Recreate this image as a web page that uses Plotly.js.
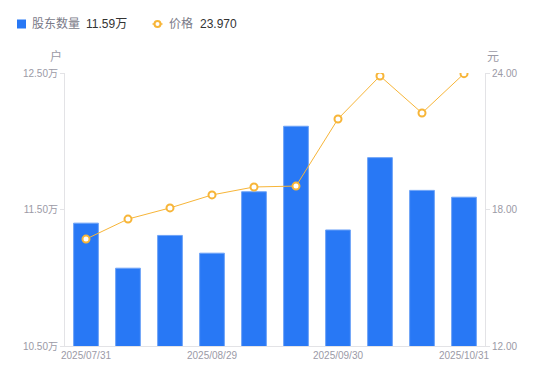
<!DOCTYPE html>
<html>
<head>
<meta charset="utf-8">
<script src="https://cdn.plot.ly/plotly-3.0.1.min.js"></script>
<style>html,body{margin:0;padding:0;background:#fff}#chart{width:550px;height:381px}</style>
</head>
<body>
<div id="chart"></div>
<script>
const dates = ["2025/07/31","2025/08/08","2025/08/20","2025/08/29","2025/09/10","2025/09/19","2025/09/30","2025/10/10","2025/10/20","2025/10/31"];
const holders = [11.40, 11.07, 11.31, 11.18, 11.63, 12.11, 11.35, 11.88, 11.64, 11.59];
const prices = [16.70, 17.58, 18.07, 18.64, 18.99, 19.03, 21.98, 23.87, 22.24, 23.97];
const xTickDates = ["2025/07/31","2025/08/29","2025/09/30","2025/10/31"];
const leftTicks = [10.5, 11.5, 12.5];
const leftTickText = ["10.50万","11.50万","12.50万"];
const rightTicks = [12, 18, 24];
const rightTickText = ["12.00","18.00","24.00"];

const FONT = "Liberation Sans, Arial, Noto Sans CJK SC, sans-serif";
const gray = "#9b9aa6";
const blue = "#2878f5";
const orange = "#f7b538";

const traces = [
  {
    type: "bar", x: dates, y: holders, yaxis: "y", name: "股东数量",
    marker: {color: blue, line: {color: "#6ea3f7", width: 1}}
  },
  {
    type: "scatter", mode: "lines+markers", x: dates, y: prices, yaxis: "y2", name: "价格",
    line: {color: orange, width: 1},
    marker: {size: 7, color: "#fff", line: {color: orange, width: 2}}
  }
];

const px = v => (v - 65) / 420;
const py = v => (346 - v) / 273;

const layout = {
  width: 550, height: 381,
  margin: {l: 65, r: 65, t: 73, b: 35, autoexpand: false},
  paper_bgcolor: "#fff", plot_bgcolor: "#fff",
  font: {family: FONT, size: 10, color: gray},
  bargap: 0.41,
  showlegend: false,
  xaxis: {
    type: "category", range: [-0.5, dates.length - 0.5], tickmode: "array", tickvals: xTickDates, ticktext: xTickDates,
    showline: true, linecolor: "#e3e3e6", linewidth: 1, ticks: "", showgrid: false,
    tickfont: {size: 10, color: gray}, zeroline: false
  },
  yaxis: {
    range: [10.5, 12.5], tickmode: "array", tickvals: leftTicks, ticktext: leftTickText,
    showline: true, linecolor: "#e3e3e6", linewidth: 1, ticks: "outside", ticklen: 4, tickcolor: "#e3e3e6",
    showgrid: false, zeroline: false, tickfont: {size: 10, color: gray}
  },
  yaxis2: {
    range: [12, 24], overlaying: "y", side: "right", tickmode: "array", tickvals: rightTicks, ticktext: rightTickText,
    showline: true, linecolor: "#e3e3e6", linewidth: 1, ticks: "outside", ticklen: 4, tickcolor: "#e3e3e6",
    showgrid: false, zeroline: false, tickfont: {size: 10, color: gray}
  },
  shapes: [
    {type: "rect", xref: "paper", yref: "paper", x0: px(17), x1: px(26), y0: py(28.5), y1: py(19.5),
     fillcolor: blue, line: {width: 0}},
    {type: "line", xref: "paper", yref: "paper", x0: px(152.5), x1: px(162.5), y0: py(24), y1: py(24),
     line: {color: orange, width: 1.5}},
    {type: "circle", xref: "paper", yref: "paper", x0: px(154.5), x1: px(160.5), y0: py(27), y1: py(21),
     fillcolor: "#fff", line: {color: orange, width: 2}}
  ],
  annotations: [
    {text: "户", xref: "paper", yref: "paper", x: 0, y: 1, xanchor: "right", yanchor: "bottom", xshift: -1, yshift: 7, showarrow: false, font: {size: 12, color: gray}},
    {text: "元", xref: "paper", yref: "paper", x: 1, y: 1, xanchor: "left", yanchor: "bottom", xshift: 0, yshift: 7, showarrow: false, font: {size: 12, color: gray}},
    {text: "股东数量", xref: "paper", yref: "paper", x: px(30), y: py(24), xanchor: "left", yanchor: "middle", showarrow: false, font: {size: 12, color: "#7a7a88"}},
    {text: holders[holders.length-1].toFixed(2) + "万", xref: "paper", yref: "paper", x: px(84), y: py(24), xanchor: "left", yanchor: "middle", showarrow: false, font: {size: 12, color: "#333"}},
    {text: "价格", xref: "paper", yref: "paper", x: px(167), y: py(24), xanchor: "left", yanchor: "middle", showarrow: false, font: {size: 12, color: "#7a7a88"}},
    {text: prices[prices.length-1].toFixed(3), xref: "paper", yref: "paper", x: px(198), y: py(24), xanchor: "left", yanchor: "middle", showarrow: false, font: {size: 12, color: "#333"}}
  ]
};

Plotly.newPlot("chart", traces, layout, {displayModeBar: false, staticPlot: true});
</script>
</body>
</html>
